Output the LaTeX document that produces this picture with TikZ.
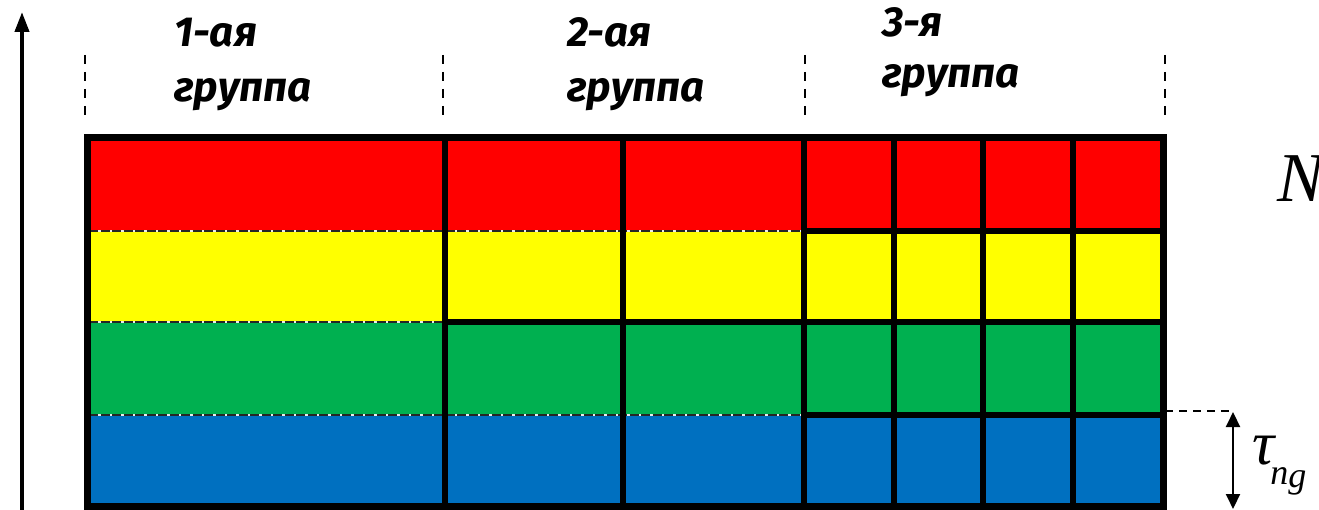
\documentclass[tikz,border=0pt]{standalone}
\usepackage{fontspec}
\newfontfamily\grpfont{Fira Sans}
\newfontfamily\serifit{Liberation Serif}
\usetikzlibrary{arrows.meta}
\definecolor{cred}{HTML}{FF0000}
\definecolor{cyellow}{HTML}{FFFF00}
\definecolor{cgreen}{HTML}{00B050}
\definecolor{cblue}{HTML}{0070C0}
\tikzset{
  grouplabel/.style={anchor=base west, inner sep=0pt, font=\grpfont\bfseries\itshape\fontsize{42}{50}\selectfont},
  thickline/.style={line width=6.5pt, black},
  thinsep/.style={line width=2.5pt, black!85, dash pattern=on 9pt off 2.5pt},
  thinsepbg/.style={line width=2.5pt, white!85!gray},
  topdash/.style={line width=2pt, black, dash pattern=on 9pt off 8pt}
}
\begin{document}
\begin{tikzpicture}[x=1pt,y=-1pt]
\useasboundingbox (0,0) rectangle (1319,510);
% row fills
\fill[cred]    (87,138) rectangle (1163,231);
\fill[cyellow] (87,231) rectangle (1163,322);
\fill[cgreen]  (87,322) rectangle (1163,415);
\fill[cblue]   (87,415) rectangle (1163,506);
% thin dashed separators (groups 1 and 2)
\foreach \y in {231,415} {
  \draw[thinsepbg] (89,\y) -- (804,\y);
  \draw[thinsep] (89,\y) -- (804,\y);
}
\draw[thinsepbg] (89,322) -- (445,322);
\draw[thinsep] (89,322) -- (445,322);
% thick separators
\draw[thickline] (445,322) -- (804,322);
\foreach \y in {231,322,415} \draw[thickline] (804,\y) -- (1163,\y);
\foreach \x in {445,623,804,894,983,1073} \draw[thickline] (\x,138) -- (\x,506);
% frame
\draw[line width=7pt] (87,138) rectangle (1163,506);
% top dashed group boundaries
\foreach \x in {85,443,805,1165} \draw[topdash] (\x,55) -- (\x,122);
% vertical axis arrow
\coordinate (axb) at (22,510);
\coordinate (axt) at (22,12);
\draw[line width=4pt, -{Triangle[length=20pt,width=14pt]}] (axb) -- (axt);
% group labels
\node[grouplabel] (g1a) at (174,47) {1-ая};
\node[grouplabel] (g1b) at (174,102) {группа};
\node[grouplabel] (g2a) at (567,47) {2-ая};
\node[grouplabel] (g2b) at (567,102) {группа};
\node[grouplabel] (g3a) at (882,37) {3-я};
\node[grouplabel] (g3b) at (882,88) {группа};
% N label
\node[anchor=base west, inner sep=0pt, font=\serifit\itshape\fontsize{70}{76}\selectfont] (nlab) at (1277,202) {N};
% tau dimension
\coordinate (dl) at (1165,411);
\coordinate (dr) at (1230,411);
\draw[line width=2pt, dash pattern=on 8pt off 6pt] (dl) -- (dr);
\coordinate (ta) at (1233,412);
\coordinate (tb) at (1233,509);
\draw[line width=2pt, {Triangle[length=15pt,width=14pt]}-{Triangle[length=15pt,width=14pt]}] (ta) -- (tb);
\node[anchor=base west, inner sep=0pt, font=\serifit\itshape\fontsize{62}{66}\selectfont] (tau) at (1252,464)
  {τ\kern-4pt\raisebox{-20pt}{\fontsize{36}{40}\selectfont n\raisebox{-3pt}{g}}};
\end{tikzpicture}
\end{document}
